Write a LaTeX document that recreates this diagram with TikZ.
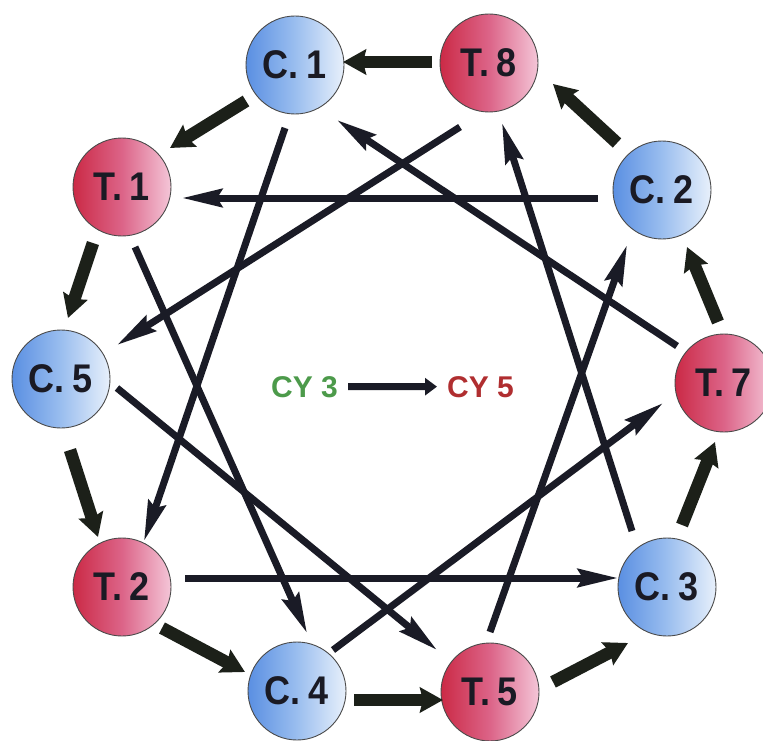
\documentclass[tikz,border=0pt]{standalone}
\usepackage{fontspec}
\setmainfont{Liberation Sans}
\newfontfamily\nodefont{Liberation Sans}[FakeStretch=0.9]
\usetikzlibrary{arrows.meta}
\definecolor{bluedark}{HTML}{5A8FE2}
\definecolor{bluemid}{HTML}{9ABEEF}
\definecolor{bluelight}{HTML}{E8F0FB}
\definecolor{reddark}{HTML}{CB2A46}
\definecolor{redmid}{HTML}{DC6488}
\definecolor{redlight}{HTML}{F4C6D8}
\definecolor{outerarrow}{HTML}{1C2019}
\definecolor{innerarrow}{HTML}{1A1B26}
\definecolor{labeltext}{HTML}{1A1A24}
\definecolor{cygreen}{HTML}{4C9A4A}
\definecolor{cyred}{HTML}{B02E30}
\definecolor{rimgray}{HTML}{4A4A4A}
\newcommand\ballfont{\nodefont\bfseries\fontsize{40}{40}\selectfont\spaceskip=0.2em\relax}
\newcommand\cyfont{\bfseries\fontsize{30}{30}\selectfont}
\begin{document}
\begin{tikzpicture}[x=1pt,y=-1pt,
  ball/.style={circle, minimum size=98pt, inner sep=0pt, draw=rimgray, line width=0.9pt, font={\ballfont}, text=labeltext},
  cball/.style={ball, left color=bluedark, right color=bluelight, middle color=bluemid},
  tball/.style={ball, left color=reddark, right color=redlight, middle color=redmid},
  ring/.style={draw=outerarrow, line width=12.5pt, -{Stealth[length=23pt,width=25pt,inset=3pt]}},
  chord/.style={draw=innerarrow, line width=7pt, -{Stealth[length=40pt,width=18pt,inset=5pt]}},
  cylabel/.style={inner sep=0pt, font={\cyfont}},
]
\useasboundingbox (0,0) rectangle (763,741);
\clip (0,0) rectangle (763,741);
\fill[white] (0,0) rectangle (763,741);

\node[cball] (c1) at (295,65) {C. 1};
\node[tball] (t8) at (489,63) {T. 8};
\node[cball] (c2) at (662,190) {C. 2};
\node[tball] (t7) at (724,383) {T. 7};
\node[cball] (c3) at (667,587) {C. 3};
\node[tball] (t5) at (490,692) {T. 5};
\node[cball] (c4) at (297,691) {C. 4};
\node[tball] (t2) at (122,587) {T. 2};
\node[cball] (c5) at (61,379) {C. 5};
\node[tball] (t1) at (122,187) {T. 1};

% outer ring arrows
\draw[ring] ([shift={(-57,-1)}]t8.center) -- ([shift={(48,-3)}]c1.center);
\draw[ring] ([shift={(-49,36)}]c1.center) -- ([shift={(48,-39)}]t1.center);
\draw[ring] ([shift={(-29,56)}]t1.center) -- ([shift={(7,-61)}]c5.center);
\draw[ring] ([shift={(9,71)}]c5.center) -- ([shift={(-24,-50)}]t2.center);
\draw[ring] ([shift={(40,41)}]t2.center) -- ([shift={(-52,-19)}]c4.center);
\draw[ring] ([shift={(57,9)}]c4.center) -- ([shift={(-47,8)}]t5.center);
\draw[ring] ([shift={(63,-10)}]t5.center) -- ([shift={(-39,56)}]c3.center);
\draw[ring] ([shift={(15,-62)}]c3.center) -- ([shift={(-9,59)}]t7.center);
\draw[ring] ([shift={(-6,-61)}]t7.center) -- ([shift={(25,57)}]c2.center);
\draw[ring] ([shift={(-45,-47)}]c2.center) -- ([shift={(64,21)}]t8.center);

% inner chords
\draw[chord] ([shift={(-64,8)}]c2.center) -- ([shift={(60,11)}]t1.center);
\draw[chord] ([shift={(63,-9)}]t2.center) -- ([shift={(-49,-9)}]c3.center);
\draw[chord] ([shift={(-29,64)}]t8.center) -- ([shift={(56,-34)}]c5.center);
\draw[chord] ([shift={(-10,63)}]c1.center) -- ([shift={(22,-46)}]t2.center);
\draw[chord] ([shift={(13,60)}]t1.center) -- ([shift={(10,-58)}]c4.center);
\draw[chord] ([shift={(56,9)}]c5.center) -- ([shift={(-53,-42)}]t5.center);
\draw[chord] ([shift={(36,-41)}]c4.center) -- ([shift={(-61,20)}]t7.center);
\draw[chord] ([shift={(0,-60)}]t5.center) -- ([shift={(-35,55)}]c2.center);
\draw[chord] ([shift={(-35,-56)}]c3.center) -- ([shift={(13,60)}]t8.center);
\draw[chord] ([shift={(-47,-37)}]t7.center) -- ([shift={(42,55)}]c1.center);

% centre legend
\node[cylabel, anchor=base east, text=cygreen] (cy3) at (338,397) {CY 3};
\node[cylabel, anchor=base west, text=cyred] (cy5) at (447,397) {CY 5};
\draw[draw=innerarrow, line width=7pt, -{Triangle[length=12pt,width=17pt]}, shorten <=10pt, shorten >=10pt] (cy3.east) -- (cy5.west);
\end{tikzpicture}
\end{document}
